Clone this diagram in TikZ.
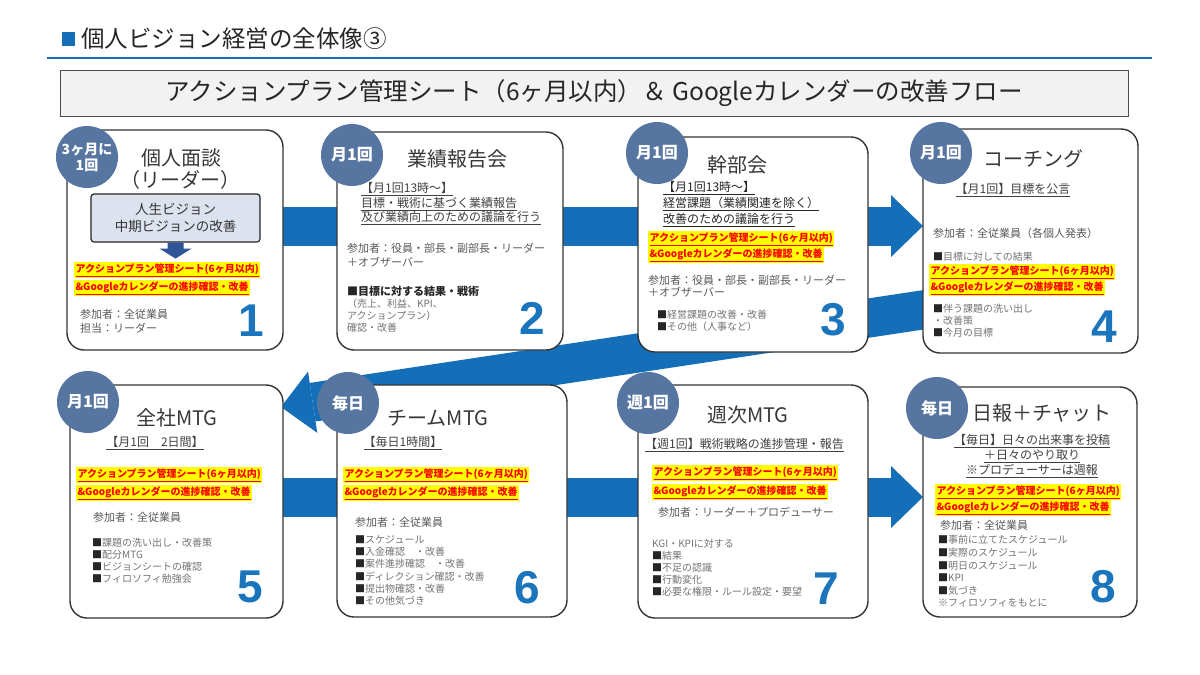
\documentclass[tikz,border=0pt]{standalone}
\usepackage{fontspec}
\setmainfont{Noto Sans CJK JP}
\newfontfamily\numfont{Liberation Sans}
\usetikzlibrary{arrows.meta}
\definecolor{flowblue}{RGB}{21,111,184}
\definecolor{badgeblue}{RGB}{86,117,160}
\definecolor{numblue}{RGB}{27,117,188}
\definecolor{boxgray}{RGB}{242,242,242}
\definecolor{visionbox}{RGB}{221,227,238}
\definecolor{darkarrow}{RGB}{47,85,151}
\definecolor{hlyellow}{RGB}{255,255,0}
\begin{document}
\begin{tikzpicture}[x=1pt,y=-1pt,
    card/.style={draw=black!80,line width=1.4pt,rounded corners=17pt,fill=white,inner sep=0pt},
    badge/.style={circle,fill=badgeblue,text=white,minimum size=62pt,inner sep=0pt,align=center,font=\fontsize{16}{17}\selectfont\bfseries},
    ttl/.style={text=black!78,inner sep=0pt,font=\fontsize{20}{23}\selectfont},
    num/.style={text=numblue,inner sep=0pt,font=\numfont\fontsize{46}{46}\selectfont\bfseries},
    hl/.style={anchor=west,fill=hlyellow,text=red,inner sep=1.3pt,font=\fontsize{10}{11}\selectfont\bfseries},
    ul/.style={text=black!75,inner sep=0pt,font=\fontsize{12}{15}\selectfont\lineskiplimit-20pt\relax},
    note/.style={anchor=north west,text=black!55,align=left,inner sep=0pt,font=\fontsize{10}{12}\selectfont\lineskiplimit-20pt\relax},
    who/.style={anchor=west,text=black!65,inner sep=0pt,font=\fontsize{11}{14}\selectfont},
    flow/.style={draw=flowblue,line width=39pt,-{Triangle[length=32pt,width=62pt,line width=0pt]}}]
    \useasboundingbox (0,0) rectangle (1200,675);
    \def\apsheet#1#2#3#4{%
        \node[hl] (#1a) at (#2,#3) {\underline{アクションプラン管理シート(6ヶ月以内)}};
        \node[hl] (#1b) at (#2,#4) {\underline{\&Googleカレンダーの進捗確認・改善}};}
    % heading
    \fill[flowblue] (62,32) rectangle (75,46);
    \node[anchor=west,inner sep=0pt,text=black!85,font=\fontsize{23.5}{25}\selectfont] (title) at (81,39) {個人ビジョン経営の全体像③};
    \draw[flowblue,line width=2pt] (47,58) -- (1152,58);
    \node[draw=black!70,line width=1pt,fill=boxgray,minimum width=1068pt,minimum height=46pt,inner sep=0pt,
          text=black!85,font=\fontsize{24.5}{26}\selectfont] (head) at (594,93) {アクションプラン管理シート（6ヶ月以内）＆ Googleカレンダーの改善フロー};
    % flow
    \coordinate (f1s) at (200,226);
    \coordinate (f1e) at (923,226);
    \coordinate (f2s) at (955,305);
    \coordinate (f2e) at (281,407);
    \coordinate (f3s) at (200,497);
    \coordinate (f3e) at (923,497);
    \draw[flow] (f1s) -- (f1e);
    \draw[flow] (f2s) -- (f2e);
    \draw[flow] (f3s) -- (f3e);
    % cards
    \node[card,minimum width=216pt,minimum height=220pt] (c1) at (175,240) {};
    \node[card,minimum width=226pt,minimum height=218pt] (c2) at (450,241) {};
    \node[card,minimum width=230pt,minimum height=215pt] (c3) at (753,244.5) {};
    \node[card,minimum width=215pt,minimum height=224pt] (c4) at (1030.5,241) {};
    \node[card,minimum width=213pt,minimum height=233pt] (c5) at (176.5,501.5) {};
    \node[card,minimum width=230pt,minimum height=232pt] (c6) at (452,501) {};
    \node[card,minimum width=230pt,minimum height=233pt] (c7) at (753,501.5) {};
    \node[card,minimum width=214pt,minimum height=230pt] (c8) at (1030,502) {};
    % 1
    \node[ttl] (t1) at (181,158) {個人面談};
    \node[ttl] (t1b) at (180,180) {（リーダー）};
    \node[draw=black!85,line width=1.2pt,rounded corners=3pt,fill=visionbox,minimum width=169pt,minimum height=48pt,
          align=center,text=black!80,font=\fontsize{13.5}{17}\selectfont] (v1) at (175.5,218) {人生ビジョン\\中期ビジョンの改善};
    \fill[darkarrow] (v1.south) ++(-8,0) -- ++(16,0) -- ++(0,6) -- ++(8,0) -- ++(-16,10) -- ++(-16,-10) -- ++(8,0) -- cycle;
    \apsheet{h1}{74}{270}{288}
    \node[note,text=black!65,font=\fontsize{11}{14}\selectfont] (w1) at (80,309.5) {参加者：全従業員\\担当：リーダー};
    \node[num] (n1) at (251,321) {1};
    % 2
    \node[ttl] (t2) at (457,159) {業績報告会};
    \node[note,text=black!75,font=\fontsize{12}{14.5}\selectfont\lineskiplimit-20pt\relax] (u2) at (361,182.5)
        {\underline{【月1回13時～】}\\\underline{目標・戦術に基づく業績報告}\\\underline{及び業績向上のための議論を行う}};
    \node[note,text=black!65,font=\fontsize{11}{14}\selectfont] (w2) at (347,242.8) {参加者：役員・部長・副部長・リーダー\\＋オブザーバー};
    \node[who,text=black!85,font=\fontsize{11}{13}\selectfont\bfseries] (k2) at (347,291) {■目標に対する結果・戦術};
    \node[note] (l2) at (347,298.3) {（売上、利益、KPI、\\アクションプラン）\\確認・改善};
    \node[num] (n2) at (532,318) {2};
    % 3
    \node[ttl] (t3) at (737,165) {幹部会};
    \node[note,text=black!85,font=\fontsize{12}{16}\selectfont\lineskiplimit-20pt\relax] (u3) at (663,181.4)
        {\underline{【月1回13時～】}\\\underline{経営課題（業績関連を除く）}\\\underline{改善のための議論を行う}};
    \apsheet{h3}{648}{239}{255}
    \node[note,text=black!65,font=\fontsize{11}{12.5}\selectfont] (w3) at (648,274.8) {参加者：役員・部長・副部長・リーダー\\＋オブザーバー};
    \node[note,font=\fontsize{10}{11.5}\selectfont] (l3) at (657,310.3) {\textcolor{black!85}{■}経営課題の改善・改善\\\textcolor{black!85}{■}その他（人事など）};
    \node[num] (n3) at (833,320) {3};
    % 4
    \node[ttl] (t4) at (1033,159) {コーチング};
    \node[ul] (u4) at (1013,190) {\underline{【月1回】目標を公言}};
    \node[who] (w4) at (933,233) {参加者：全従業員（各個人発表）};
    \node[who,text=black!55,font=\fontsize{10}{12}\selectfont] (k4) at (933,257) {\textcolor{black!85}{■}目標に対しての結果};
    \apsheet{h4}{929}{272}{288}
    \node[note] (l4) at (933,304.3) {\textcolor{black!85}{■}伴う課題の洗い出し\\・改善策\\\textcolor{black!85}{■}今月の目標};
    \node[num] (n4) at (1104,327) {4};
    % 5
    \node[ttl] (t5) at (177,418) {全社MTG};
    \node[ul] (u5) at (155,443) {\underline{【月1回　2日間】}};
    \apsheet{h5}{76}{475}{493}
    \node[who] (w5) at (93,517) {参加者：全従業員};
    \node[note] (l5) at (92,538.3) {\textcolor{black!85}{■}課題の洗い出し・改善策\\\textcolor{black!85}{■}配分MTG\\\textcolor{black!85}{■}ビジョンシートの確認\\\textcolor{black!85}{■}フィロソフィ勉強会};
    \node[num] (n5) at (250,587) {5};
    % 6
    \node[ttl] (t6) at (438,418) {チームMTG};
    \node[ul] (u6) at (403,443) {\underline{【毎日1時間】}};
    \apsheet{h6}{343}{475}{493}
    \node[who] (w6) at (355,522) {参加者：全従業員};
    \node[note,font=\fontsize{10}{12.2}\selectfont] (l6) at (355,535.3) {\textcolor{black!85}{■}スケジュール\\\textcolor{black!85}{■}入金確認　・改善\\\textcolor{black!85}{■}案件進捗確認　・改善\\\textcolor{black!85}{■}ディレクション確認・改善\\\textcolor{black!85}{■}提出物確認・改善\\\textcolor{black!85}{■}その他気づき};
    \node[num] (n6) at (527,588) {6};
    % 7
    \node[ttl] (t7) at (748,415) {週次MTG};
    \node[ul,anchor=west] (u7) at (645,445) {\underline{【週1回】戦術戦略の進捗管理・報告}};
    \apsheet{h7}{652}{473}{492}
    \node[who] (w7) at (658,512) {参加者：リーダー＋プロデューサー};
    \node[note] (l7) at (652,539.3) {KGI・KPIに対する\\\textcolor{black!85}{■}結果\\\textcolor{black!85}{■}不足の認識\\\textcolor{black!85}{■}行動変化\\\textcolor{black!85}{■}必要な権限・ルール設定・要望};
    \node[num] (n7) at (826,589) {7};
    % 8
    \node[ttl] (t8) at (1042,413) {日報＋チャット};
    \node[ul,align=center] (u8) at (1032,456) {\underline{【毎日】日々の出来事を投稿}\\\underline{＋日々のやり取り}\\\underline{※プロデューサーは週報}};
    \apsheet{h8}{935}{492}{508}
    \node[who] (w8) at (940,525) {参加者：全従業員};
    \node[note,font=\fontsize{10}{12.6}\selectfont] (l8) at (938,535.3) {\textcolor{black!85}{■}事前に立てたスケジュール\\\textcolor{black!85}{■}実際のスケジュール\\\textcolor{black!85}{■}明日のスケジュール\\\textcolor{black!85}{■}KPI\\\textcolor{black!85}{■}気づき\\※フィロソフィをもとに};
    \node[num] (n8) at (1103,587) {8};
    % badges
    \node[badge,font=\fontsize{14}{16}\selectfont\bfseries] (b1) at (87,157) {3ヶ月に\\1回};
    \node[badge] (b2) at (352,155) {月1回};
    \node[badge] (b3) at (657,153) {月1回};
    \node[badge] (b4) at (941,153) {月1回};
    \node[badge] (b5) at (88,402) {月1回};
    \node[badge] (b6) at (348,403) {毎日};
    \node[badge] (b7) at (648,403) {週1回};
    \node[badge] (b8) at (937,408) {毎日};
\end{tikzpicture}
\end{document}
